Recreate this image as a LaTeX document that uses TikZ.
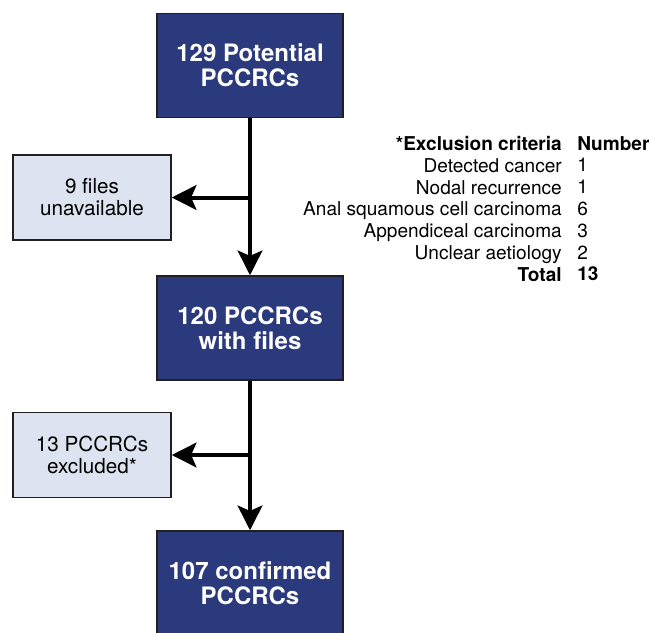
\documentclass[tikz,border=0pt]{standalone}
\usepackage{fontspec}
\setmainfont{TeX Gyre Heros}
\usepackage{xcolor}
\usetikzlibrary{arrows.meta}

\definecolor{pcnavy}{RGB}{43,57,125}
\definecolor{pcpale}{RGB}{221,227,240}
\definecolor{pcedge}{RGB}{35,31,32}

\tikzset{
	mainbox/.style={draw=pcedge, line width=1.1pt, fill=pcnavy, text=white, align=center,
		font=\fontsize{18}{18.8}\selectfont\bfseries, minimum width=139.5pt, minimum height=78pt, inner sep=0pt},
	sidebox/.style={draw=pcedge, line width=1.1pt, fill=pcpale, align=center,
		font=\fontsize{15.5}{16.5}\selectfont, minimum width=118.5pt, minimum height=64pt, inner sep=0pt},
	flowarrow/.style={line width=3pt, -{Stealth[length=18.5pt,width=18.5pt,inset=4pt]}},
}

\begin{document}
\begin{tikzpicture}[x=0.75pt,y=0.75pt,yscale=-1,xscale=1]
				\useasboundingbox (0,0) rectangle (649,632); %set diagram to the size of the figure
				
				% Boxes
				\node [mainbox] (potential) at (250,65.5) {129 Potential\\PCCRCs};
				\node [mainbox] (withfiles) at (250,328) {120 PCCRCs\\with files};
				\node [mainbox] (confirmed) at (250,583) {107 confirmed\\PCCRCs};
				\node [sidebox] (unavail) at (92,197.5) {9 files\\unavailable};
				\node [sidebox] (excluded) at (92,455) {13 PCCRCs\\excluded*};
				
				%Straight Lines
				\draw [flowarrow] (potential) -- (withfiles);
				%Straight Lines
				\draw [flowarrow] (potential.south |- unavail.east) -- (unavail.east);
				%Straight Lines
				\draw [flowarrow] (withfiles) -- (confirmed);
				%Straight Lines
				\draw [flowarrow] (withfiles.south |- excluded.east) -- (excluded.east);
				
				% Text Node
				\node [anchor=north east, inner sep=0pt, align=right, font=\fontsize{14.3}{16.35}\selectfont] (criteria) at (562,136)
					{\textbf{*Exclusion criteria}\\Detected cancer\\Nodal recurrence\\Anal squamous cell carcinoma\\Appendiceal carcinoma\\Unclear aetiology\\\textbf{Total}};
				% Text Node
				\node [anchor=north west, inner sep=0pt, align=left, font=\fontsize{14.3}{16.35}\selectfont] (counts) at (577,136)
					{\textbf{Number}\\1\\1\\6\\3\\2\\\textbf{13}};
				
			\end{tikzpicture}
\end{document}
